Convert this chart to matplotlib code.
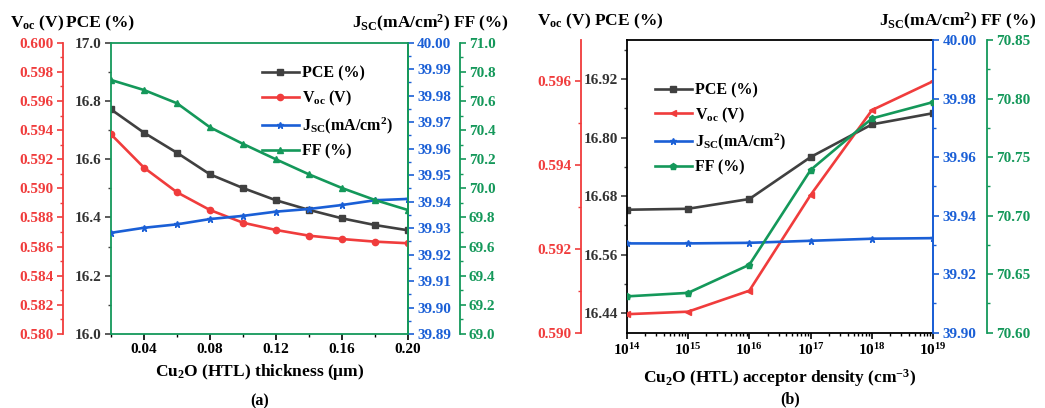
import numpy as np
import matplotlib
matplotlib.use("Agg")
import matplotlib.pyplot as plt
from matplotlib.ticker import MultipleLocator, FixedLocator, FixedFormatter, LogLocator, NullFormatter, FormatStrFormatter

plt.rcParams['font.family'] = ['Liberation Serif', 'DejaVu Serif']
plt.rcParams['font.weight'] = 'bold'
plt.rcParams['mathtext.fontset'] = 'custom'
plt.rcParams['mathtext.rm'] = 'Liberation Serif:bold'
plt.rcParams['mathtext.it'] = 'Liberation Serif:bold'
plt.rcParams['mathtext.bf'] = 'Liberation Serif:bold'

# (a) HTL thickness sweep
thickness = [0.02, 0.04, 0.06, 0.08, 0.10, 0.12, 0.14, 0.16, 0.18, 0.20]
pce_a = [16.771, 16.691, 16.622, 16.548, 16.501, 16.459, 16.426, 16.397, 16.374, 16.356]
voc_a = [0.59371, 0.59142, 0.58973, 0.58851, 0.58764, 0.58714, 0.58675, 0.58652, 0.58634, 0.58623]
jsc_a = [39.9282, 39.9301, 39.9314, 39.9334, 39.9346, 39.9362, 39.9372, 39.9387, 39.9405, 39.9410]
ff_a = [70.744, 70.675, 70.584, 70.419, 70.305, 70.199, 70.096, 70.002, 69.920, 69.851]

# (b) HTL acceptor density sweep
density = [1e14, 1e15, 1e16, 1e17, 1e18, 1e19]
pce_b = [16.652, 16.654, 16.674, 16.760, 16.827, 16.850]
voc_b = [0.59044, 0.59050, 0.59100, 0.59328, 0.59530, 0.59599]
jsc_b = [39.9305, 39.9305, 39.9307, 39.9314, 39.9321, 39.9323]
ff_b = [70.631, 70.634, 70.658, 70.739, 70.783, 70.797]

C_PCE = '#404040'
C_VOC = '#f03c3c'
C_JSC = '#1a5fd6'
C_FF = '#14985a'
TICK_FS = 11
HEAD_FS = 12.5

W, H = 1045, 408


def px(x, y):
    return x / W, 1 - y / H


def setup_axes(fig, rect, voc_pos, ff_pos):
    ax = fig.add_axes(rect)
    ax_voc = ax.twinx()
    ax_jsc = ax.twinx()
    ax_ff = ax.twinx()

    ax_voc.yaxis.set_ticks_position('left')
    ax_voc.yaxis.set_label_position('left')
    for s in ['top', 'bottom', 'right']:
        ax_voc.spines[s].set_visible(False)
    ax_voc.spines['left'].set_position(('axes', voc_pos))
    ax_voc.spines['left'].set_color(C_VOC)
    ax_voc.spines['left'].set_linewidth(1.3)

    for s in ['top', 'bottom', 'left']:
        ax_jsc.spines[s].set_visible(False)
        ax_ff.spines[s].set_visible(False)
    ax_ff.spines['right'].set_position(('axes', ff_pos))
    ax_ff.spines['right'].set_color(C_FF)
    ax_ff.spines['right'].set_linewidth(1.3)
    ax_jsc.spines['right'].set_linewidth(1.3)

    for a in [ax, ax_voc, ax_jsc, ax_ff]:
        a.tick_params(which='major', direction='out', length=4, width=1.2, labelsize=TICK_FS, pad=2.5)
        a.tick_params(which='minor', direction='out', length=2.2, width=1.0)
    for s in ax.spines.values():
        s.set_linewidth(1.3)

    ax.tick_params(axis='y', which='both', colors=C_PCE, labelcolor='#333333')
    ax.tick_params(axis='x', which='both', colors='black')
    ax_voc.tick_params(axis='y', which='both', colors=C_VOC)
    ax_jsc.tick_params(axis='y', which='both', colors=C_JSC)
    ax_ff.tick_params(axis='y', which='both', colors=C_FF)
    return ax, ax_voc, ax_jsc, ax_ff


def plot_thickness(fig):
    ax, ax_voc, ax_jsc, ax_ff = setup_axes(fig, [0.1062, 0.1814, 0.2842, 0.714], -0.162, 1.175)

    l1, = ax.plot(thickness, pce_a, color=C_PCE, lw=1.9, marker='s', ms=4, label='PCE (%)')
    l2, = ax_voc.plot(thickness, voc_a, color=C_VOC, lw=1.9, marker='o', ms=4.5, label='V$_{\\rm oc}$ (V)')
    l3, = ax_jsc.plot(thickness, jsc_a, color=C_JSC, lw=1.9, marker='*', ms=5, label='J$_{\\rm SC}$(mA/cm$^{2}$)')
    l4, = ax_ff.plot(thickness, ff_a, color=C_FF, lw=1.9, marker='^', ms=4.5, label='FF (%)')

    ax.set_xlim(0.02, 0.20)
    ax.xaxis.set_major_locator(FixedLocator([0.04, 0.08, 0.12, 0.16, 0.20]))
    ax.xaxis.set_minor_locator(MultipleLocator(0.02))
    ax.xaxis.set_major_formatter(FormatStrFormatter('%.2f'))

    ax.set_ylim(16.0, 17.0)
    ax.yaxis.set_major_locator(MultipleLocator(0.2))
    ax.yaxis.set_minor_locator(MultipleLocator(0.1))
    ax.yaxis.set_major_formatter(FormatStrFormatter('%.1f'))

    ax_voc.set_ylim(0.580, 0.600)
    ax_voc.yaxis.set_major_locator(MultipleLocator(0.002))
    ax_voc.yaxis.set_minor_locator(MultipleLocator(0.001))
    ax_voc.yaxis.set_major_formatter(FormatStrFormatter('%.3f'))

    ax_jsc.set_ylim(39.89, 40.00)
    ax_jsc.yaxis.set_major_locator(MultipleLocator(0.01))
    ax_jsc.yaxis.set_minor_locator(MultipleLocator(0.005))
    ax_jsc.yaxis.set_major_formatter(FormatStrFormatter('%.2f'))

    ax_ff.set_ylim(69.0, 71.0)
    ax_ff.yaxis.set_major_locator(MultipleLocator(0.2))
    ax_ff.yaxis.set_minor_locator(MultipleLocator(0.1))
    ax_ff.yaxis.set_major_formatter(FormatStrFormatter('%.1f'))

    # green frame in panel (a)
    for s in ['top', 'bottom', 'left', 'right']:
        ax.spines[s].set_color(C_FF)
    ax_jsc.spines['right'].set_color(C_FF)

    ax.set_xlabel('Cu$_{2}$O (HTL) thickness (μm)', fontsize=12.5, fontweight='bold', labelpad=4)

    ax_ff.legend([l1, l2, l3, l4], [l.get_label() for l in [l1, l2, l3, l4]],
                 loc='upper left', bbox_to_anchor=(0.46, 0.97), frameon=False,
                 fontsize=11.5, handlelength=2.3, handletextpad=0.2, labelspacing=0.45)

    fig.text(*px(37, 23), 'V$_{\\rm oc}$ (V)', fontsize=HEAD_FS, ha='center', va='center')
    fig.text(*px(100, 23), 'PCE (%)', fontsize=HEAD_FS, ha='center', va='center')
    fig.text(*px(401, 23), 'J$_{\\rm SC}$(mA/cm$^{2}$)', fontsize=HEAD_FS, ha='center', va='center')
    fig.text(*px(481, 23), 'FF (%)', fontsize=HEAD_FS, ha='center', va='center')
    fig.text(*px(260, 401), '(a)', fontsize=11.5, ha='center', va='center')


def plot_density(fig):
    ax, ax_voc, ax_jsc, ax_ff = setup_axes(fig, [0.5997, 0.1846, 0.2934, 0.7174], -0.149, 1.175)

    l1, = ax.plot(density, pce_b, color=C_PCE, lw=1.9, marker='s', ms=4, label='PCE (%)')
    l2, = ax_voc.plot(density, voc_b, color=C_VOC, lw=1.9, marker='<', ms=5, label='V$_{\\rm oc}$ (V)')
    l3, = ax_jsc.plot(density, jsc_b, color=C_JSC, lw=1.9, marker='*', ms=5, label='J$_{\\rm SC}$(mA/cm$^{2}$)')
    l4, = ax_ff.plot(density, ff_b, color=C_FF, lw=1.9, marker='p', ms=4.5, label='FF (%)')

    ax.set_xscale('log')
    ax.set_xlim(1e14, 1e19)
    ax.xaxis.set_major_locator(FixedLocator(density))
    ax.xaxis.set_major_formatter(FixedFormatter(['10$^{%d}$' % e for e in range(14, 20)]))
    ax.xaxis.set_minor_locator(LogLocator(base=10, subs=np.arange(2, 10), numticks=50))
    ax.xaxis.set_minor_formatter(NullFormatter())

    ax.set_ylim(16.40, 17.00)
    ax.yaxis.set_major_locator(FixedLocator([16.44, 16.56, 16.68, 16.80, 16.92]))
    ax.yaxis.set_minor_locator(FixedLocator([16.50, 16.62, 16.74, 16.86, 16.98]))
    ax.yaxis.set_major_formatter(FormatStrFormatter('%.2f'))

    ax_voc.set_ylim(0.590, 0.59697)
    ax_voc.yaxis.set_major_locator(MultipleLocator(0.002))
    ax_voc.yaxis.set_minor_locator(MultipleLocator(0.001))
    ax_voc.yaxis.set_major_formatter(FormatStrFormatter('%.3f'))

    ax_jsc.set_ylim(39.90, 40.00)
    ax_jsc.yaxis.set_major_locator(MultipleLocator(0.02))
    ax_jsc.yaxis.set_minor_locator(MultipleLocator(0.01))
    ax_jsc.yaxis.set_major_formatter(FormatStrFormatter('%.2f'))

    ax_ff.set_ylim(70.60, 70.85)
    ax_ff.yaxis.set_major_locator(MultipleLocator(0.05))
    ax_ff.yaxis.set_minor_locator(MultipleLocator(0.025))
    ax_ff.yaxis.set_major_formatter(FormatStrFormatter('%.2f'))

    for s in ['top', 'bottom', 'left']:
        ax.spines[s].set_color('black')
    ax.spines['right'].set_color(C_JSC)
    ax_jsc.spines['right'].set_color(C_JSC)

    ax.set_xlabel('Cu$_{2}$O (HTL) acceptor density (cm$^{-3}$)', fontsize=12.5, fontweight='bold', labelpad=7)

    ax_ff.legend([l1, l2, l3, l4], [l.get_label() for l in [l1, l2, l3, l4]],
                 loc='upper left', bbox_to_anchor=(0.045, 0.905), frameon=False,
                 fontsize=11.5, handlelength=2.3, handletextpad=0.2, labelspacing=0.45)

    fig.text(*px(600, 21), 'V$_{\\rm oc}$ (V) PCE (%)', fontsize=HEAD_FS, ha='center', va='center')
    fig.text(*px(958, 21), 'J$_{\\rm SC}$(mA/cm$^{2}$) FF (%)', fontsize=HEAD_FS, ha='center', va='center')
    fig.text(*px(790, 399), '(b)', fontsize=11.5, ha='center', va='center')


if __name__ == "__main__":
    fig = plt.figure(figsize=(W / 100, H / 100), dpi=100)
    plot_thickness(fig)
    plot_density(fig)
    fig.savefig('out.png', dpi=100)
